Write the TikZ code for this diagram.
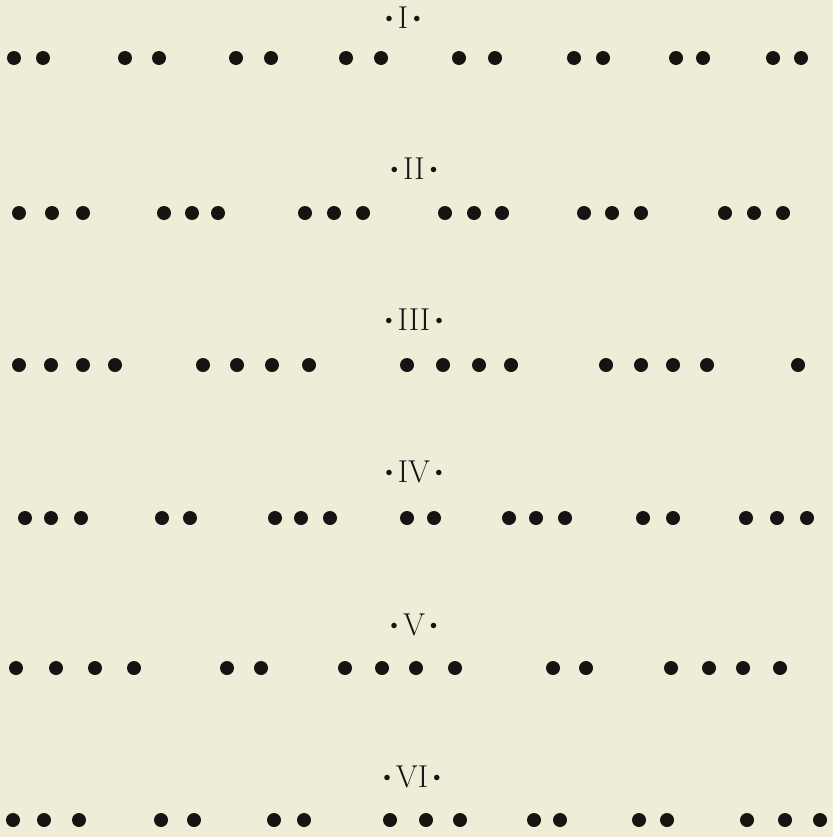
\documentclass[tikz,border=0pt]{standalone}
\usepackage{xcolor}
\usepackage{tikz}

\definecolor{paper}{RGB}{239,236,216}
\definecolor{ink}{RGB}{22,20,18}

\newcommand{\sidedot}{\raisebox{5.5pt}{\fontsize{13}{13}\selectfont$\bullet$}}

\begin{document}
\begin{tikzpicture}[x=0.03cm, y=-0.03cm,
    numeral/.style={inner sep=0pt, text=ink, font=\fontsize{27}{32}\selectfont},
    pip/.style={fill=ink}]
    \fill[paper] (0,0) rectangle (833,837);
    \useasboundingbox (0,0) rectangle (833,837);

    \node[numeral] (numI)   at (403,18)  {\sidedot\,I\,\sidedot};
    \node[numeral] (numII)  at (414,169) {\sidedot\,II\,\sidedot};
    \node[numeral] (numIII) at (414,320) {\sidedot\,III\,\sidedot};
    \node[numeral] (numIV)  at (414,472) {\sidedot\,IV\,\sidedot};
    \node[numeral] (numV)   at (414,625) {\sidedot\,V\,\sidedot};
    \node[numeral] (numVI)  at (412,777) {\sidedot\,VI\,\sidedot};

    \foreach \x in {14,43, 125,159, 236,271, 346,381, 459,495, 574,603, 676,703, 773,801}
        \fill[pip] (\x,58) circle (7);
    \foreach \x in {19,52,83, 164,192,218, 305,334,363, 445,474,502, 584,612,641, 725,754,783}
        \fill[pip] (\x,213) circle (7);
    \foreach \x in {19,51,83,115, 203,237,272,309, 407,443,479,511, 606,641,673,707, 798}
        \fill[pip] (\x,365) circle (7);
    \foreach \x in {25,51,81, 162,190, 275,301,330, 407,434, 509,536,565, 643,673, 746,777,807}
        \fill[pip] (\x,518) circle (7);
    \foreach \x in {16,56,95,134, 227,261, 345,382,416,455, 553,586, 671,709,743,780}
        \fill[pip] (\x,668) circle (7);
    \foreach \x in {13,44,79, 161,194, 274,304, 390,426,460, 534,560, 639,667, 747,785,820}
        \fill[pip] (\x,820) circle (7);
\end{tikzpicture}
\end{document}
